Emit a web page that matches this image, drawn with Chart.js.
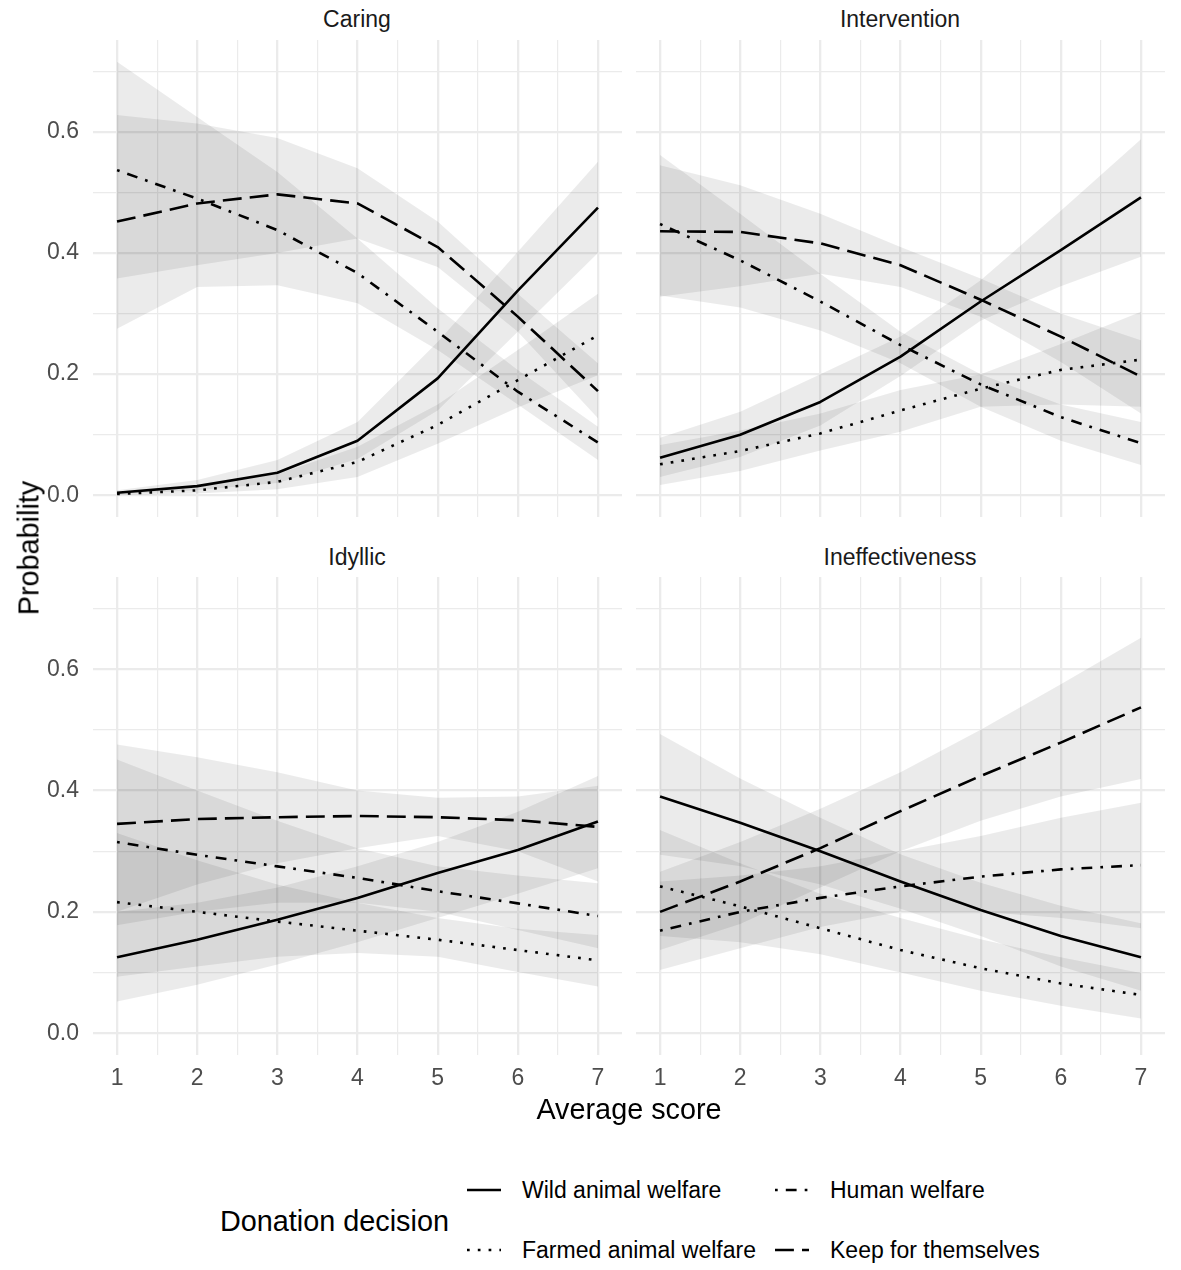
<!DOCTYPE html>
<html>
<head>
<meta charset="utf-8">
<script src="https://cdn.jsdelivr.net/npm/chart.js@4.4.1/dist/chart.umd.min.js"></script>
<style>
  body { margin: 0; background: #fff; font-family: "Liberation Sans", Arial, sans-serif; }
  #wrap { position: relative; width: 1181px; height: 1270px; overflow: hidden; background: #fff; }
  canvas { position: absolute; }
  .txt { position: absolute; white-space: nowrap; transform: translate(-50%, -50%); }
  .strip { font-size: 23px; color: #1a1a1a; }
  .axtitle { font-size: 28.8px; color: #000; }
  .leg { position: absolute; white-space: nowrap; font-size: 23px; color: #000; transform: translateY(-50%); }
  .legtitle { position: absolute; white-space: nowrap; font-size: 28.8px; color: #000; transform: translateY(-50%); }
  svg { position: absolute; overflow: visible; }
</style>
</head>
<body>
<div id="wrap">
  <canvas id="p1" width="622" height="477" style="left:0;top:40px"></canvas>
  <canvas id="p2" width="529" height="477" style="left:636px;top:40px"></canvas>
  <canvas id="p3" width="622" height="518" style="left:0;top:577px"></canvas>
  <canvas id="p4" width="529" height="518" style="left:636px;top:577px"></canvas>

  <div class="txt strip" style="left:357px;top:19px">Caring</div>
  <div class="txt strip" style="left:900px;top:19px">Intervention</div>
  <div class="txt strip" style="left:357px;top:557px">Idyllic</div>
  <div class="txt strip" style="left:900px;top:557px">Ineffectiveness</div>

  <div class="txt axtitle" style="left:29px;top:548px;transform:translate(-50%,-50%) rotate(-90deg)">Probability</div>
  <div class="txt axtitle" style="left:629px;top:1109px">Average score</div>

  <div class="legtitle" style="left:220px;top:1221px">Donation decision</div>
  <svg style="left:467px;top:1190px" width="34" height="2"><line x1="0" y1="0" x2="34" y2="0" stroke="#000" stroke-width="2.5"/></svg>
  <div class="leg" style="left:522px;top:1190px">Wild animal welfare</div>
  <svg style="left:467px;top:1250px" width="34" height="2"><line x1="0" y1="0" x2="34" y2="0" stroke="#000" stroke-width="2.5" stroke-dasharray="2.7 8.1"/></svg>
  <div class="leg" style="left:522px;top:1250px">Farmed animal welfare</div>
  <svg style="left:775px;top:1190px" width="34" height="2"><line x1="0" y1="0" x2="34" y2="0" stroke="#000" stroke-width="2.5" stroke-dasharray="2.7 8.1 10.8 8.1"/></svg>
  <div class="leg" style="left:830px;top:1190px">Human welfare</div>
  <svg style="left:775px;top:1250px" width="34" height="2"><line x1="0" y1="0" x2="34" y2="0" stroke="#000" stroke-width="2.5" stroke-dasharray="18.9 8.1"/></svg>
  <div class="leg" style="left:830px;top:1250px">Keep for themselves</div>
</div>

<script>
// x values (average score) and axis breaks
const scores = [1, 2, 3, 4, 5, 6, 7];
const xBreaks = [1, 1.5, 2, 2.5, 3, 3.5, 4, 4.5, 5, 5.5, 6, 6.5, 7];
const yBreaks = [0, 0.1, 0.2, 0.3, 0.4, 0.5, 0.6, 0.7];
const yLabels = [0, 0.2, 0.4, 0.6];

// Caring
const caringWild     = [0.004, 0.015, 0.037, 0.090, 0.193, 0.338, 0.475];
const caringWildLo   = [0.001, 0.008, 0.020, 0.060, 0.140, 0.270, 0.400];
const caringWildHi   = [0.008, 0.025, 0.058, 0.121, 0.253, 0.402, 0.551];
const caringFarmed   = [0.002, 0.008, 0.022, 0.055, 0.116, 0.190, 0.264];
const caringFarmedLo = [0.000, 0.003, 0.010, 0.030, 0.085, 0.145, 0.198];
const caringFarmedHi = [0.004, 0.014, 0.035, 0.080, 0.150, 0.240, 0.333];
const caringHuman    = [0.537, 0.490, 0.438, 0.367, 0.270, 0.171, 0.087];
const caringHumanLo  = [0.275, 0.344, 0.347, 0.317, 0.240, 0.150, 0.058];
const caringHumanHi  = [0.716, 0.625, 0.534, 0.424, 0.309, 0.207, 0.113];
const caringKeep     = [0.452, 0.482, 0.497, 0.482, 0.410, 0.295, 0.172];
const caringKeepLo   = [0.358, 0.380, 0.400, 0.424, 0.377, 0.270, 0.127];
const caringKeepHi   = [0.628, 0.614, 0.590, 0.540, 0.452, 0.333, 0.218];

// Intervention
const interWild     = [0.062, 0.100, 0.154, 0.229, 0.320, 0.405, 0.492];
const interWildLo   = [0.030, 0.063, 0.115, 0.197, 0.288, 0.345, 0.394];
const interWildHi   = [0.095, 0.138, 0.200, 0.262, 0.355, 0.470, 0.588];
const interFarmed   = [0.051, 0.073, 0.102, 0.140, 0.176, 0.207, 0.224];
const interFarmedLo = [0.017, 0.040, 0.074, 0.105, 0.146, 0.150, 0.146];
const interFarmedHi = [0.083, 0.107, 0.135, 0.174, 0.200, 0.250, 0.303];
const interHuman    = [0.448, 0.388, 0.320, 0.248, 0.183, 0.129, 0.086];
const interHumanLo  = [0.330, 0.310, 0.272, 0.218, 0.146, 0.090, 0.050];
const interHumanHi  = [0.562, 0.465, 0.366, 0.270, 0.200, 0.150, 0.121];
const interKeep     = [0.436, 0.435, 0.416, 0.380, 0.323, 0.262, 0.196];
const interKeepLo   = [0.328, 0.345, 0.366, 0.344, 0.295, 0.220, 0.135];
const interKeepHi   = [0.545, 0.512, 0.465, 0.410, 0.358, 0.300, 0.256];

// Idyllic
const idylWild     = [0.125, 0.154, 0.187, 0.223, 0.264, 0.302, 0.349];
const idylWildLo   = [0.052, 0.080, 0.113, 0.150, 0.190, 0.230, 0.272];
const idylWildHi   = [0.200, 0.215, 0.240, 0.275, 0.315, 0.365, 0.424];
const idylFarmed   = [0.216, 0.200, 0.184, 0.169, 0.154, 0.137, 0.120];
const idylFarmedLo = [0.093, 0.110, 0.126, 0.132, 0.126, 0.101, 0.077];
const idylFarmedHi = [0.330, 0.285, 0.245, 0.215, 0.190, 0.172, 0.162];
const idylHuman    = [0.315, 0.294, 0.275, 0.256, 0.234, 0.214, 0.193];
const idylHumanLo  = [0.178, 0.200, 0.215, 0.215, 0.200, 0.170, 0.140];
const idylHumanHi  = [0.451, 0.400, 0.350, 0.305, 0.275, 0.260, 0.247];
const idylKeep     = [0.345, 0.353, 0.356, 0.358, 0.356, 0.351, 0.340];
const idylKeepLo   = [0.200, 0.245, 0.280, 0.305, 0.325, 0.300, 0.250];
const idylKeepHi   = [0.476, 0.455, 0.430, 0.400, 0.388, 0.390, 0.408];

// Ineffectiveness
const ineffWild     = [0.390, 0.347, 0.300, 0.250, 0.203, 0.160, 0.125];
const ineffWildLo   = [0.294, 0.275, 0.245, 0.205, 0.160, 0.110, 0.070];
const ineffWildHi   = [0.493, 0.420, 0.355, 0.295, 0.248, 0.210, 0.181];
const ineffFarmed   = [0.242, 0.209, 0.173, 0.137, 0.107, 0.082, 0.063];
const ineffFarmedLo = [0.160, 0.150, 0.130, 0.100, 0.070, 0.045, 0.024];
const ineffFarmedHi = [0.335, 0.280, 0.230, 0.190, 0.155, 0.125, 0.099];
const ineffHuman    = [0.169, 0.200, 0.223, 0.242, 0.258, 0.270, 0.277];
const ineffHumanLo  = [0.104, 0.140, 0.175, 0.200, 0.200, 0.190, 0.173];
const ineffHumanHi  = [0.250, 0.260, 0.275, 0.300, 0.325, 0.355, 0.380];
const ineffKeep     = [0.200, 0.250, 0.305, 0.366, 0.424, 0.479, 0.537];
const ineffKeepLo   = [0.137, 0.180, 0.240, 0.300, 0.350, 0.390, 0.419];
const ineffKeepHi   = [0.266, 0.315, 0.370, 0.430, 0.500, 0.575, 0.652];

// ggplot-ish linetypes, unit = line width
const U = 2.7;
const dashWild = [];
const dashFarmed = [U, 3 * U];
const dashHuman = [U, 3 * U, 4 * U, 3 * U];
const dashKeep = [7 * U, 3 * U];

const ribbon = 'rgba(0,0,0,0.08)';
const gridCol = '#ebebeb';
const tickFont = { family: '"Liberation Sans", Arial, sans-serif', size: 23 };

function pts(arr) {
  return scores.map((s, i) => ({ x: s, y: arr[i] }));
}

function makePanel(id, series, showY, showX) {
  const lines = series.map(s => ({
    data: pts(s.fit),
    borderColor: '#000',
    borderWidth: 2.6,
    borderDash: s.dash,
    borderCapStyle: 'butt',
    borderJoinStyle: 'round',
    pointRadius: 0,
    tension: 0,
    fill: false
  }));
  const bands = [];
  series.forEach(s => {
    bands.push({ data: pts(s.lo), borderWidth: 0, pointRadius: 0, fill: false, tension: 0 });
    bands.push({ data: pts(s.hi), borderWidth: 0, pointRadius: 0, fill: '-1', backgroundColor: ribbon, tension: 0 });
  });

  new Chart(document.getElementById(id), {
    type: 'line',
    data: { datasets: lines.concat(bands) },
    options: {
      responsive: false,
      animation: false,
      layout: { padding: 0 },
      plugins: { legend: { display: false }, tooltip: { enabled: false } },
      scales: {
        x: {
          type: 'linear',
          min: 0.7,
          max: 7.3,
          afterBuildTicks: sc => { sc.ticks = xBreaks.map(v => ({ value: v })); },
          afterFit: sc => {
            sc.height = showX ? 40 : 0;
            sc.paddingLeft = 0; sc.paddingRight = 0;
          },
          border: { display: false },
          grid: {
            color: gridCol,
            drawTicks: false,
            lineWidth: c => (c.tick && Number.isInteger(c.tick.value)) ? 2.3 : 1.2
          },
          ticks: {
            display: showX,
            padding: 10,
            color: '#4d4d4d',
            font: tickFont,
            maxRotation: 0,
            autoSkip: false,
            callback: v => Number.isInteger(v) ? String(v) : ''
          }
        },
        y: {
          min: -0.036,
          max: 0.752,
          afterBuildTicks: sc => { sc.ticks = yBreaks.map(v => ({ value: v })); },
          afterFit: sc => {
            sc.width = showY ? 93 : 0;
            sc.paddingTop = 0; sc.paddingBottom = 0;
          },
          border: { display: false },
          grid: {
            color: gridCol,
            drawTicks: false,
            lineWidth: c => (c.tick && Math.round(c.tick.value * 10) % 2 === 0) ? 2.3 : 1.2
          },
          ticks: {
            display: showY,
            padding: 14,
            color: '#4d4d4d',
            font: tickFont,
            autoSkip: false,
            callback: v => yLabels.some(l => Math.abs(l - v) < 1e-9) ? v.toFixed(1) : ''
          }
        }
      }
    }
  });
}

makePanel('p1', [
  { fit: caringWild, lo: caringWildLo, hi: caringWildHi, dash: dashWild },
  { fit: caringFarmed, lo: caringFarmedLo, hi: caringFarmedHi, dash: dashFarmed },
  { fit: caringHuman, lo: caringHumanLo, hi: caringHumanHi, dash: dashHuman },
  { fit: caringKeep, lo: caringKeepLo, hi: caringKeepHi, dash: dashKeep }
], true, false);

makePanel('p2', [
  { fit: interWild, lo: interWildLo, hi: interWildHi, dash: dashWild },
  { fit: interFarmed, lo: interFarmedLo, hi: interFarmedHi, dash: dashFarmed },
  { fit: interHuman, lo: interHumanLo, hi: interHumanHi, dash: dashHuman },
  { fit: interKeep, lo: interKeepLo, hi: interKeepHi, dash: dashKeep }
], false, false);

makePanel('p3', [
  { fit: idylWild, lo: idylWildLo, hi: idylWildHi, dash: dashWild },
  { fit: idylFarmed, lo: idylFarmedLo, hi: idylFarmedHi, dash: dashFarmed },
  { fit: idylHuman, lo: idylHumanLo, hi: idylHumanHi, dash: dashHuman },
  { fit: idylKeep, lo: idylKeepLo, hi: idylKeepHi, dash: dashKeep }
], true, true);

makePanel('p4', [
  { fit: ineffWild, lo: ineffWildLo, hi: ineffWildHi, dash: dashWild },
  { fit: ineffFarmed, lo: ineffFarmedLo, hi: ineffFarmedHi, dash: dashFarmed },
  { fit: ineffHuman, lo: ineffHumanLo, hi: ineffHumanHi, dash: dashHuman },
  { fit: ineffKeep, lo: ineffKeepLo, hi: ineffKeepHi, dash: dashKeep }
], false, true);
</script>
</body>
</html>
